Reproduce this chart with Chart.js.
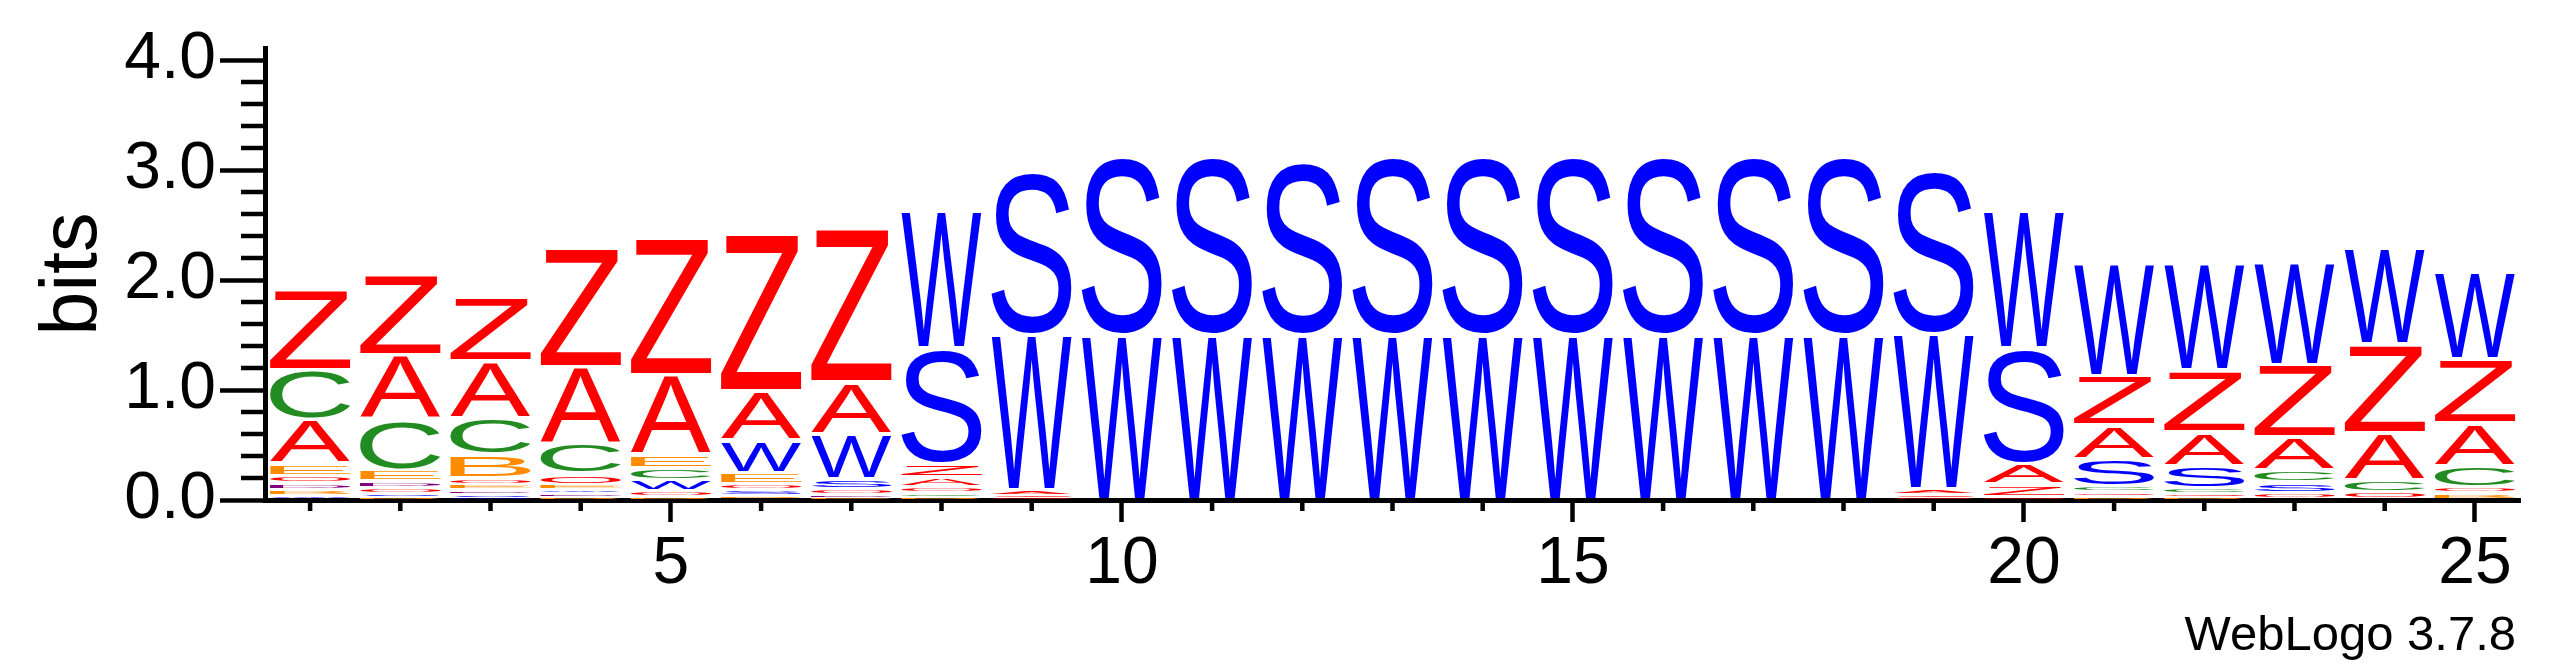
<!DOCTYPE html>
<html>
<head>
<meta charset="utf-8">
<script src="https://cdn.jsdelivr.net/npm/chart.js@4.4.1/dist/chart.umd.min.js"></script>
<style>
  html, body { margin: 0; padding: 0; background: #fff; }
  #wrap { width: 2567px; height: 667px; }
</style>
</head>
<body>
<div id="wrap"><canvas id="logo" width="2567" height="667"></canvas></div>
<script>
// sequence positions (x axis)
const positions = ['1', '2', '3', '4', '5', '6', '7', '8', '9', '10', '11', '12', '13',
    '14', '15', '16', '17', '18', '19', '20', '21', '22', '23', '24', '25'];

// information (bits) carried by each letter at each position
const bitsA = [0.40, 0.59, 0.52, 0.70, 0.73, 0.45, 0.47, 0.09, 0.05, 0, 0, 0, 0, 0, 0, 0, 0, 0, 0.05, 0.19, 0.31, 0.31, 0.30, 0.43, 0.39];
const bitsB = [0.05, 0.03, 0.21, 0.03, 0.03, 0.04, 0, 0.03, 0, 0, 0, 0, 0, 0, 0, 0, 0, 0, 0, 0, 0.03, 0.03, 0, 0, 0.06];
const bitsC = [0.45, 0.46, 0.33, 0.27, 0.11, 0, 0, 0.03, 0, 0, 0, 0, 0, 0, 0, 0, 0, 0, 0, 0, 0.05, 0.05, 0.11, 0.11, 0.19];
const bitsD = [0.06, 0.06, 0.04, 0.03, 0, 0, 0.03, 0, 0, 0, 0, 0, 0, 0, 0, 0, 0, 0, 0, 0, 0, 0, 0, 0, 0];
const bitsE = [0.11, 0.10, 0.05, 0.05, 0.12, 0.10, 0.02, 0, 0, 0, 0, 0, 0, 0, 0, 0, 0, 0, 0, 0, 0, 0, 0, 0, 0];
const bitsO = [0.07, 0.05, 0.06, 0.10, 0.05, 0.06, 0.05, 0.06, 0.02, 0, 0, 0, 0, 0, 0, 0, 0, 0, 0.02, 0.03, 0.04, 0.03, 0.06, 0.07, 0.06];
const bitsS = [0, 0.03, 0.03, 0, 0, 0.05, 0.09, 1.05, 1.50, 1.63, 1.63, 1.58, 1.63, 1.63, 1.63, 1.63, 1.63, 1.63, 1.50, 1.05, 0.25, 0.20, 0.10, 0, 0];
const bitsW = [0.04, 0, 0.02, 0.03, 0.10, 0.29, 0.41, 1.25, 1.41, 1.50, 1.50, 1.50, 1.50, 1.50, 1.50, 1.50, 1.50, 1.50, 1.41, 1.25, 1.02, 0.97, 0.93, 0.88, 0.79];
const bitsZ = [0.73, 0.74, 0.58, 1.08, 1.25, 1.43, 1.40, 0.12, 0.02, 0, 0, 0, 0, 0, 0, 0, 0, 0, 0.03, 0.11, 0.45, 0.56, 0.66, 0.81, 0.58];

const letters = ['A', 'B', 'C', 'D', 'E', 'O', 'S', 'W', 'Z'];
const letterBits = [bitsA, bitsB, bitsC, bitsD, bitsE, bitsO, bitsS, bitsW, bitsZ];

// y axis ticks
const yMax = 4.11;
const yStep = 0.2;

// colour scheme
const letterColors = {
    A: '#ff0000', O: '#ff0000', Z: '#ff0000',
    B: '#ff8c00', E: '#ff8c00',
    C: '#228b22',
    D: '#800080',
    S: '#0000ff', W: '#0000ff'
};
const FONT = '"Liberation Sans", Arial, Helvetica, sans-serif';

// stack the letters of each column, smallest at the bottom -> floating [start, end] ranges
const ranges = letters.map(() => positions.map(() => null));
positions.forEach((p, i) => {
    const order = letters.map((_, k) => k)
        .filter(k => letterBits[k][i] > 0)
        .sort((a, b) => letterBits[a][i] - letterBits[b][i]);
    let base = 0;
    order.forEach(k => {
        ranges[k][i] = [base, base + letterBits[k][i]];
        base += letterBits[k][i];
    });
});

const isWhole = v => Math.abs(v - Math.round(v)) < 1e-6;
const isFifth = i => Number(positions[i]) % 5 === 0;

// draw one letter stretched to fill a box
function drawGlyph(ctx, ch, x0, yBottom, w, h, color) {
    ctx.save();
    ctx.font = '200px ' + FONT;
    ctx.textAlign = 'left';
    ctx.textBaseline = 'alphabetic';
    const m = ctx.measureText(ch);
    const gw = m.actualBoundingBoxLeft + m.actualBoundingBoxRight;
    const gh = m.actualBoundingBoxAscent + m.actualBoundingBoxDescent;
    ctx.translate(x0, yBottom);
    ctx.scale(w / gw, h / gh);
    ctx.fillStyle = color;
    ctx.fillText(ch, m.actualBoundingBoxLeft, -m.actualBoundingBoxDescent);
    ctx.restore();
}

const glyphPlugin = {
    id: 'glyphs',
    afterDatasetsDraw(chart) {
        const ctx = chart.ctx;
        chart.data.datasets.forEach((ds, k) => {
            chart.getDatasetMeta(k).data.forEach((bar, i) => {
                if (!ds.data[i]) return;
                const top = Math.min(bar.y, bar.base);
                const bottom = Math.max(bar.y, bar.base);
                const box = bottom - top;
                const h = Math.max(box - 4, box * 0.35);
                drawGlyph(ctx, ds.label, bar.x - bar.width / 2, bottom - (box - h) / 2, bar.width, h, letterColors[ds.label]);
            });
        });
    }
};

// short minor ticks + version note
const extrasPlugin = {
    id: 'extras',
    afterDraw(chart) {
        const ctx = chart.ctx;
        const ys = chart.scales.y, xs = chart.scales.x;
        ctx.save();
        ctx.strokeStyle = '#000';
        ctx.lineWidth = 4.5;
        ctx.beginPath();
        ys.ticks.forEach((t, i) => {
            if (isWhole(t.value)) return;
            const py = ys.getPixelForTick(i);
            ctx.moveTo(ys.right - 24, py);
            ctx.lineTo(ys.right, py);
        });
        xs.ticks.forEach((t, i) => {
            if (isFifth(i)) return;
            const px = xs.getPixelForTick(i);
            ctx.moveTo(px, xs.top);
            ctx.lineTo(px, xs.top + 11);
        });
        ctx.stroke();

        ctx.fillStyle = '#000';
        ctx.font = '49px ' + FONT;
        ctx.textAlign = 'right';
        ctx.textBaseline = 'alphabetic';
        ctx.fillText('WebLogo 3.7.8', 2516, 650);
        ctx.restore();
    }
};

new Chart(document.getElementById('logo'), {
    type: 'bar',
    data: {
        labels: positions,
        datasets: letters.map((ch, k) => ({
            label: ch,
            data: ranges[k],
            backgroundColor: 'rgba(0,0,0,0)',
            borderWidth: 0,
            barPercentage: 0.89,
            categoryPercentage: 1
        }))
    },
    options: {
        responsive: false,
        animation: false,
        devicePixelRatio: 1,
        layout: { padding: { top: 48, right: 47, bottom: 0, left: 0 } },
        plugins: { legend: { display: false }, tooltip: { enabled: false } },
        scales: {
            x: {
                stacked: true,
                offset: true,
                afterFit: s => { s.height = 167; },
                border: { display: true, color: '#000', width: 5 },
                grid: {
                    drawOnChartArea: false,
                    offset: false,
                    tickLength: 22,
                    tickWidth: 4.5,
                    tickColor: c => isFifth(c.index) ? '#000' : 'rgba(0,0,0,0)'
                },
                ticks: {
                    autoSkip: false,
                    maxRotation: 0,
                    padding: 3,
                    color: '#000',
                    font: { family: FONT, size: 66 },
                    callback: (v, i) => isFifth(i) ? positions[i] : ''
                }
            },
            y: {
                min: 0,
                max: yMax,
                afterFit: s => { s.width = 265; },
                border: { display: true, color: '#000', width: 5 },
                grid: {
                    drawOnChartArea: false,
                    tickLength: 45,
                    tickWidth: 4.5,
                    tickColor: c => (c.tick && isWhole(c.tick.value)) ? '#000' : 'rgba(0,0,0,0)'
                },
                ticks: {
                    stepSize: yStep,
                    includeBounds: false,
                    autoSkip: false,
                    padding: 4,
                    color: '#000',
                    font: { family: FONT, size: 66 },
                    callback: v => isWhole(v) ? v.toFixed(1) : ''
                },
                title: {
                    display: true,
                    text: 'bits',
                    color: '#000',
                    font: { family: FONT, size: 79 },
                    padding: { top: 27, bottom: 0 }
                }
            }
        }
    },
    plugins: [glyphPlugin, extrasPlugin]
});
</script>
</body>
</html>
